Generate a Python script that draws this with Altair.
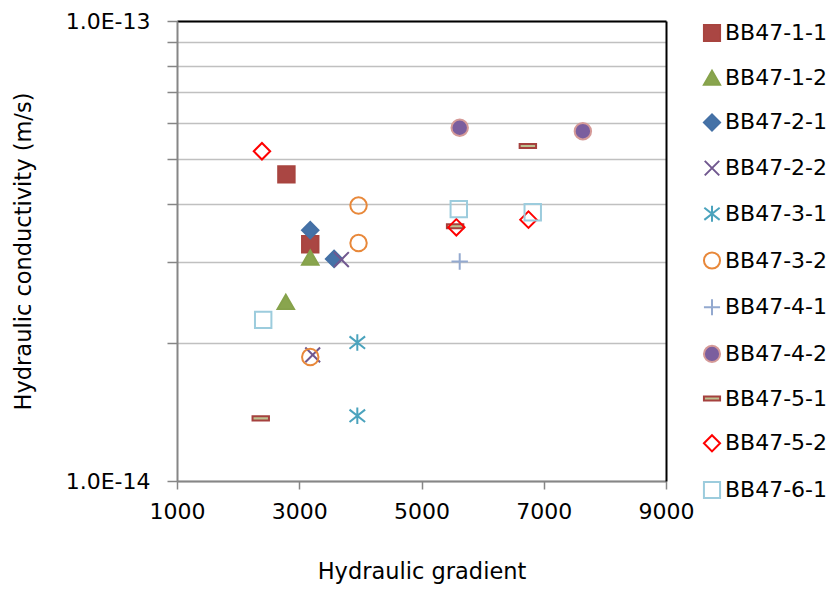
import altair as alt
import pandas as pd

# ---- data ----
series = ["BB47-1-1", "BB47-1-2", "BB47-2-1", "BB47-2-2", "BB47-3-1", "BB47-3-2",
          "BB47-4-1", "BB47-4-2", "BB47-5-1", "BB47-5-2", "BB47-6-1"]

gradient = {
    "BB47-1-1": [2790, 3180],
    "BB47-1-2": [3180, 2780],
    "BB47-2-1": [3180, 3570],
    "BB47-2-2": [3690, 3220],
    "BB47-3-1": [3950, 3950],
    "BB47-3-2": [3970, 3970, 3180],
    "BB47-4-1": [5625, 7640],
    "BB47-4-2": [5625, 7640],
    "BB47-5-1": [6740, 5550, 2370],
    "BB47-5-2": [2390, 5570, 6750],
    "BB47-6-1": [2410, 5610, 6820],
}
conductivity = {
    "BB47-1-1": [4.64e-14, 3.27e-14],
    "BB47-1-2": [3.06e-14, 2.45e-14],
    "BB47-2-1": [3.51e-14, 3.04e-14],
    "BB47-2-2": [3.03e-14, 1.88e-14],
    "BB47-3-1": [2.00e-14, 1.386e-14],
    "BB47-3-2": [3.97e-14, 3.29e-14, 1.86e-14],
    "BB47-4-1": [3.00e-14, 5.76e-14],
    "BB47-4-2": [5.86e-14, 5.76e-14],
    "BB47-5-1": [5.35e-14, 3.58e-14, 1.368e-14],
    "BB47-5-2": [5.21e-14, 3.56e-14, 3.70e-14],
    "BB47-6-1": [2.24e-14, 3.90e-14, 3.84e-14],
}

x_ticks = [1000, 3000, 5000, 7000, 9000]
y_ticks = [1e-14, 2e-14, 3e-14, 4e-14, 5e-14, 6e-14, 7e-14, 8e-14, 9e-14, 1e-13]

# ---- marker styles ----
X_PATH = "M-0.9,-0.9L0.9,0.9M-0.9,0.9L0.9,-0.9"
STAR_PATH = "M-0.95,-0.75L0.95,0.75M-0.95,0.75L0.95,-0.75M0,-1L0,1"
PLUS_PATH = "M-1,0L1,0M0,-1L0,1"
DASH_PATH = "M-1,-0.25L1,-0.25L1,0.25L-1,0.25Z"

shapes = ["square", "triangle-up", "diamond", X_PATH, STAR_PATH, "circle",
          PLUS_PATH, "circle", DASH_PATH, "diamond", "square"]
fills = ["#AA4643", "#89A54E", "#4572A7", "transparent", "transparent", "transparent",
         "transparent", "#7B5E9E", "#BDC291", "transparent", "transparent"]
strokes = ["#A8443F", "#86A24B", "#4470A5", "#71588F", "#4BA3BD", "#E8883A",
           "#93A9CF", "#D59A98", "#A5413E", "#FF0000", "#9CCCDD"]

rows = []
for s in series:
    for gx, cy in zip(gradient[s], conductivity[s]):
        rows.append({"series": s, "gradient": gx, "k": cy})
df = pd.DataFrame(rows)

FONT = "DejaVu Sans"

x_scale = alt.Scale(domain=[1000, 9000], nice=False, zero=False)
y_scale = alt.Scale(type="log", domain=[1e-14, 1e-13], nice=False)

legend = alt.Legend(
    title=None, orient="none", legendX=524, legendY=1, padding=0,
    labelFont=FONT, labelFontSize=22, labelColor="black",
    symbolSize=260, symbolStrokeWidth=2, rowPadding=20.7, labelOffset=2,
)

points = alt.Chart(df).mark_point(size=270, strokeWidth=2, opacity=1).encode(
    x=alt.X("gradient:Q", scale=x_scale,
            axis=alt.Axis(values=x_ticks, format="d", grid=False,
                          title="Hydraulic gradient", tickSize=8,
                          labelFlush=False, labelOverlap=False,
                          labelPadding=12, titlePadding=38)),
    y=alt.Y("k:Q", scale=y_scale,
            axis=alt.Axis(values=y_ticks, grid=True, tickSize=10,
                          labelExpr="datum.value >= 9.9e-14 ? '1.0E-13' : (datum.value <= 1.01e-14 ? '1.0E-14' : '')",
                          labelFlush=False, labelOverlap=False,
                          title="Hydraulic conductivity (m/s)", labelPadding=17,
                          titlePadding=30)),
    fill=alt.Fill("series:N", scale=alt.Scale(domain=series, range=fills), legend=legend),
    stroke=alt.Stroke("series:N", scale=alt.Scale(domain=series, range=strokes), legend=legend),
    shape=alt.Shape("series:N", scale=alt.Scale(domain=series, range=shapes), legend=legend),
)

# frame: black top and right edges drawn as axis domains
frame = alt.Chart(df).mark_point(opacity=0).encode(
    x=alt.X("gradient:Q", scale=x_scale,
            axis=alt.Axis(orient="top", labels=False, ticks=False, grid=False, title=None,
                          domainColor="black", domainWidth=2)),
    y=alt.Y("k:Q", scale=y_scale,
            axis=alt.Axis(orient="right", labels=False, ticks=False, grid=False, title=None,
                          domainColor="black", domainWidth=2)),
)

chart = alt.layer(points, frame).resolve_axis(
    x="independent", y="independent"
).properties(
    width=489, height=460,
    background="white",
    autosize=alt.AutoSizeParams(type="none"),
    padding={"left": 169, "top": 13, "right": 163, "bottom": 105},
).configure_view(
    stroke=None
).configure_axis(
    labelFont=FONT, labelFontSize=22, labelColor="black",
    titleFont=FONT, titleFontSize=22.5, titleFontWeight="normal", titleColor="black",
    domainColor="#868686", domainWidth=2, tickColor="#868686", tickWidth=1.5,
    gridColor="#C0C0C0", gridWidth=1.5,
)

chart.save("out.html", embed_options={"renderer": "svg", "actions": False})
